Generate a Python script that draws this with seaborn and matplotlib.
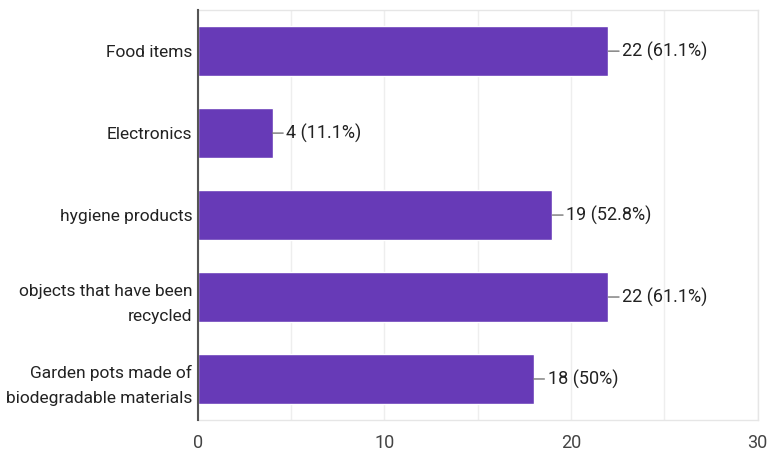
import matplotlib
matplotlib.use("Agg")
import matplotlib.pyplot as plt
import seaborn as sns
import pandas as pd

# data
categories = [
    "Food items",
    "Electronics",
    "hygiene products",
    "objects that have been\nrecycled",
    "Garden pots made of\nbiodegradable materials",
]
counts = [22, 4, 19, 22, 18]
total_responses = 36
x_ticks = [0, 10, 20, 30]

df = pd.DataFrame({"category": categories, "count": counts})

sns.set_theme(style="white")
plt.rcParams["font.family"] = ["Roboto", "DejaVu Sans"]

fig = plt.figure(figsize=(7.7, 4.62), dpi=100)
ax = fig.add_axes([0.257, 0.091, 0.727, 0.887])

sns.barplot(data=df, x="count", y="category", orient="h", color="#673AB7",
            saturation=1, width=0.61, ax=ax, zorder=3)

ax.set_xlim(0, 30)
ax.set_xticks(x_ticks)
ax.set_xticks([5, 15, 25], minor=True)
ax.grid(axis="x", which="both", color="#eeeeee", linewidth=1, zorder=0)
ax.set_xlabel("")
ax.set_ylabel("")

for side in ["top", "right", "bottom"]:
    ax.spines[side].set_color("#e6e6e6")
    ax.spines[side].set_linewidth(1)
ax.spines["left"].set_color("#555555")
ax.spines["left"].set_linewidth(1.5)
ax.spines["left"].set_zorder(4)

ax.tick_params(axis="x", which="both", length=0, pad=10, labelsize=13, labelcolor="#444444")
ax.tick_params(axis="y", length=0, pad=4, labelsize=12.5, labelcolor="#222222")
for lbl in ax.get_yticklabels():
    lbl.set_linespacing(1.85)

# value labels with short leader line
for i, v in enumerate(counts):
    pct = round(v / total_responses * 100, 1)
    label = f"{v} ({pct:g}%)"
    ax.annotate(label, xy=(v, i), xytext=(10, 0), textcoords="offset points",
                va="center", ha="left", fontsize=13, color="#222222",
                arrowprops=dict(arrowstyle="-", color="#777777", lw=1,
                                shrinkA=0, shrinkB=0))

fig.savefig("out.png", dpi=100)
